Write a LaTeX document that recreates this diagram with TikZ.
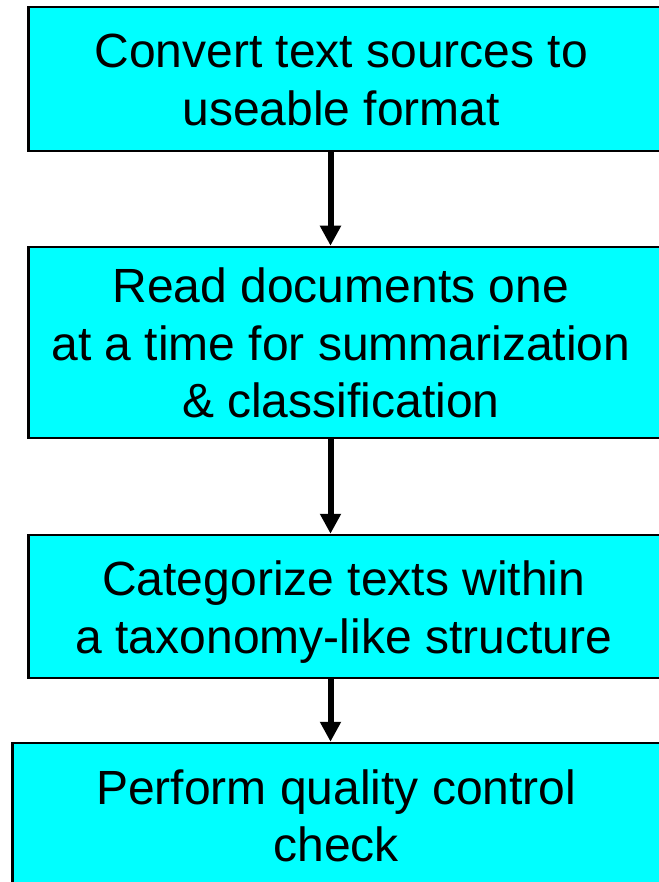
\documentclass[tikz,border=0pt]{standalone}
\usepackage{fontspec}
\setmainfont{Liberation Sans}
\usepackage{tikz}
\usetikzlibrary{arrows.meta}
\definecolor{boxcyan}{RGB}{0,255,255}
\newcommand{\steplines}[2][27pt]{\begin{tabular}[t]{@{}c@{}}#2\end{tabular}\hspace*{#1}}

\begin{document}
\begin{tikzpicture}[x=1pt, y=-1pt,
  stepbox/.style={draw=black, fill=boxcyan, line width=2.5pt, anchor=west,
    minimum height=144pt, minimum width=653pt, inner sep=0pt,
    text height=52.75pt, font=\fontsize{48}{57.5}\selectfont},
  flow/.style={line width=6pt, -{Triangle[width=20pt,length=20pt]}}]
\useasboundingbox (0,0) rectangle (658,882);
\node[stepbox] (conv) at (27,79) {\steplines{Convert text sources to\\useable format}};
\node[stepbox, minimum height=191pt] (read) at (27,342.5) {\steplines[28pt]{Read documents one\\at a time for summarization\\\& classification}};
\node[stepbox, minimum height=143pt] (categ) at (27,606.5) {\steplines[22pt]{Categorize texts within\\a taxonomy-like structure}};
\node[stepbox, minimum width=669pt] (check) at (11,815) {\steplines[21pt]{Perform quality control\\check}};
\coordinate (axis) at (330.5,0);
\draw[flow] (conv.south -| axis) -- (read.north -| axis);
\draw[flow] (read.south -| axis) -- (categ.north -| axis);
\draw[flow] (categ.south -| axis) -- (check.north -| axis);
\end{tikzpicture}
\end{document}
